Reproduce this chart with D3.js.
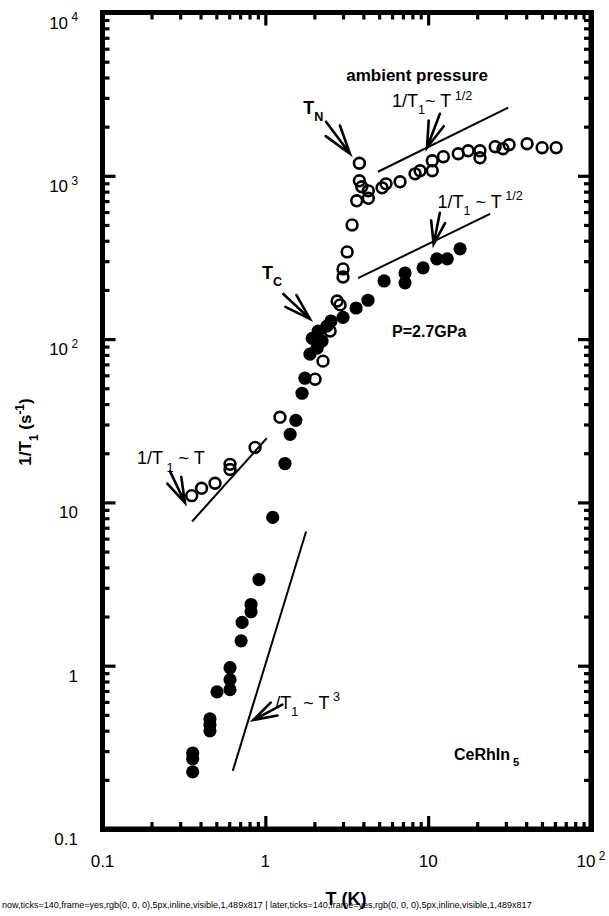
<!DOCTYPE html>
<html>
<head>
<meta charset="utf-8">
<script src="https://cdn.jsdelivr.net/npm/d3@7"></script>
<style>
  body { margin: 0; background: #fff; position: relative; }
  svg { display: block; font-family: "Liberation Sans", Arial, Helvetica, sans-serif; }
  #box { position: absolute; box-sizing: border-box; border: 5px solid #000; pointer-events: none; }
  #diag { position: absolute; left: 2px; top: 900px; font: 9px sans-serif; color: #000; }
</style>
</head>
<body>
<svg id="chart" width="609" height="916"></svg>
<div id="box"></div>
<div id="diag"></div>
<script>
// ambient pressure (open circles)
const ambientT = [0.353, 0.406, 0.491, 0.607, 0.607, 0.865, 1.23, 2.02, 2.26, 2.50, 2.76, 2.88,
    3.00, 3.00, 3.18, 3.41, 3.64, 3.78, 3.78, 3.91, 4.29, 4.29, 5.21, 5.51, 6.72, 8.31, 8.92,
    10.6, 10.6, 12.4, 15.3, 17.6, 20.8, 20.8, 25.8, 28.8, 31.4, 40.5, 50.1, 61.1];
const ambientRate = [11.0, 12.2, 13.1, 17.1, 15.9, 21.7, 33.2, 56.8, 73.3, 112, 171, 162,
    269, 240, 342, 500, 703, 1194, 932, 857, 809, 728, 844, 893, 919, 1028, 1074,
    1236, 1074, 1309, 1365, 1423, 1423, 1289, 1507, 1465, 1549, 1571, 1486, 1486];

// P = 2.7 GPa (filled circles)
const pressT = [0.358, 0.358, 0.358, 0.457, 0.457, 0.457, 0.505, 0.607, 0.607, 0.607, 0.710,
    0.720, 0.817, 0.817, 0.914, 1.11, 1.32, 1.42, 1.54, 1.68, 1.75, 1.88, 1.94, 2.08, 2.11,
    2.23, 2.39, 2.53, 3.00, 3.61, 4.27, 5.36, 7.21, 7.21, 9.31, 11.3, 13.1, 15.7];
const pressRate = [0.224, 0.269, 0.292, 0.399, 0.435, 0.473, 0.692, 0.713, 0.821, 0.972, 1.42,
    1.84, 2.14, 2.37, 3.37, 8.09, 17.3, 26.1, 31.8, 46.6, 57.6, 80.9, 101, 88.1, 112,
    97.2, 120, 129, 136, 155, 173, 227, 254, 221, 273, 310, 310, 357];

// power-law guide lines [T, rate] -> [T, rate]
const guideLines = [
    [[4.92, 1059], [31.0, 2612]],   // ambient ~T^1/2
    [[3.71, 236], [24.0, 585]],     // 2.7GPa ~T^1/2
    [[0.355, 7.64], [1.02, 24.7]],  // ~T
    [[0.631, 0.227], [1.78, 6.64]]  // ~T^3
];

// arrows, tail -> tip
const arrows = [
    [[2.36, 2143], [3.31, 1365]],   // T_N
    [[11.8, 2399], [9.84, 1486]],
    [[11.8, 593], [10.8, 381]],
    [[1.29, 189], [1.88, 133]],     // T_C
    [[0.260, 15.5], [0.321, 9.95]],
    [[1.27, 0.577], [0.844, 0.465]]
];

const xTickLabels = [[0.1, "0.1"], [1, "1"], [10, "10"], [100, "10", "2"]];
const yTickLabels = [[1e4, "10", "4"], [1e3, "10", "3"], [100, "10", "2"], [10, "10"], [1, "1"], [0.1, "0.1"]];

const svg = d3.select("#chart");
const width = 609, height = 916;
svg.append("rect").attr("width", width).attr("height", height).attr("fill", "#fff");

const plotLeft = 102.5, plotRight = 591, plotTop = 12.5, plotBottom = 829;
const x = d3.scaleLog().domain([0.1, 100]).range([plotLeft, plotRight]);
const y = d3.scaleLog().domain([0.1, 1e4]).range([plotBottom, plotTop]);

// tick values: majors at decades, minors at 2..9
const xMajor = [1, 10];
const yMajor = [1, 10, 100, 1000];
const minors = (d0, d1) => {
    const out = [];
    for (let d = d0; d < d1 * 0.999; d *= 10) for (let m = 2; m <= 9; m++) out.push(d * m);
    return out;
};
const xMinor = minors(0.1, 100);
const yMinor = minors(0.1, 1e4);

// inward ticks on all four sides
function tickAxis(axisFn, scale, values, size, tx, ty) {
    const g = svg.append("g")
        .attr("class", "ticks")
        .attr("transform", `translate(${tx},${ty})`);
    g.call(axisFn(scale).tickValues(values).tickSize(-size).tickFormat(() => ""));
    g.select(".domain").remove();
    g.selectAll(".tick line")
        .attr("stroke", "#000")
        .attr("stroke-width", 3.2);
}
[[xMajor, 13], [xMinor, 7]].forEach(([v, s]) => {
    tickAxis(d3.axisBottom, x, v, s, 0, plotBottom);
    tickAxis(d3.axisTop, x, v, s, 0, plotTop);
});
[[yMajor, 13], [yMinor, 7]].forEach(([v, s]) => {
    tickAxis(d3.axisLeft, y, v, s, plotLeft, 0);
    tickAxis(d3.axisRight, y, v, s, plotRight, 0);
});

// frame (svg) plus the same frame as an html box
svg.append("path")
    .attr("id", "frame")
    .attr("d", `M${plotLeft},${plotTop}H${plotRight}V${plotBottom}H${plotLeft}Z`)
    .attr("fill", "none")
    .attr("stroke", "#000")
    .attr("stroke-width", 5);
d3.select("#box")
    .style("left", `${plotLeft - 2.5}px`).style("top", `${plotTop - 2.5}px`)
    .style("width", `${plotRight - plotLeft + 5}px`).style("height", `${plotBottom - plotTop + 5}px`);

// text with sub/superscripts: parts = [[str, kind]]
function rich(px, py, parts, size, weight, anchor, rotate) {
    const t = svg.append("text")
        .attr("x", px).attr("y", py)
        .attr("font-size", size)
        .attr("font-weight", weight || "normal")
        .attr("text-anchor", anchor || "start")
        .attr("fill", "#000");
    if (rotate) t.attr("transform", `rotate(${rotate},${px},${py})`);
    let off = 0;
    parts.forEach(([s, kind]) => {
        const target = kind === "sub" ? size * 0.4 : kind === "sup" ? -size * 0.42 : 0;
        const ts = t.append("tspan").text(s).attr("dy", target - off);
        if (kind) ts.attr("font-size", size * 0.7);
        off = target;
    });
    return t;
}

// tick labels
xTickLabels.forEach(([v, a, b]) => {
    rich(x(v), 867, b ? [[a], [" " + b, "sup"]] : [[a]], 17, "normal", "middle");
});
yTickLabels.forEach(([v, a, b]) => {
    rich(78, y(v) + 16, b ? [[a], [" " + b, "sup"]] : [[a]], 17, "normal", "end");
});

// axis titles
rich(346, 905, [["T (K)"]], 18, "bold", "middle");
rich(31, 432, [["1/T"], ["1", "sub"], [" (s"], ["-1", "sup"], [")"]], 17, "bold", "middle", -90);

// guide lines
svg.append("g").selectAll("line")
    .data(guideLines)
    .join("line")
    .attr("x1", d => x(d[0][0])).attr("y1", d => y(d[0][1]))
    .attr("x2", d => x(d[1][0])).attr("y2", d => y(d[1][1]))
    .attr("stroke", "#000").attr("stroke-width", 2);

// arrows: shaft plus two long barbs
const arrowG = svg.append("g").attr("stroke", "#000").attr("stroke-width", 2.6)
    .attr("fill", "none").attr("stroke-linecap", "round");
arrows.forEach(([tail, tip]) => {
    const x0 = x(tail[0]), y0 = y(tail[1]), x1 = x(tip[0]), y1 = y(tip[1]);
    const ang = Math.atan2(y0 - y1, x0 - x1);
    const len = Math.hypot(x0 - x1, y0 - y1) * 0.75;
    const spread = 0.3;
    const barb = a => [x1 + len * Math.cos(a), y1 + len * Math.sin(a)];
    const b1 = barb(ang - spread), b2 = barb(ang + spread);
    arrowG.append("path")
        .attr("d", `M${x0},${y0}L${x1},${y1}M${b1[0]},${b1[1]}L${x1},${y1}L${b2[0]},${b2[1]}`);
});

// data points
const ambient = ambientT.map((t, i) => [t, ambientRate[i]]);
const press = pressT.map((t, i) => [t, pressRate[i]]);

svg.append("g").selectAll("circle")
    .data(press)
    .join("circle")
    .attr("cx", d => x(d[0])).attr("cy", d => y(d[1]))
    .attr("r", 6.6).attr("fill", "#000");

svg.append("g").selectAll("circle")
    .data(ambient)
    .join("circle")
    .attr("cx", d => x(d[0])).attr("cy", d => y(d[1]))
    .attr("r", 5.4).attr("fill", "none")
    .attr("stroke", "#000").attr("stroke-width", 2.6);

// annotations
const at = (t, v) => [x(t), y(v)];
rich(...at(8.55, 3828), [["ambient pressure"]], 17, "bold", "middle");
rich(...at(6.0, 2630), [["1/T"], ["1", "sub"], ["~ T"], [" 1/2", "sup"]], 18);
rich(...at(11.4, 637), [["1/T"], ["1", "sub"], [" ~  T"], [" 1/2", "sup"]], 18);
rich(...at(1.71, 2399), [["T"], ["N", "sub"]], 18, "bold");
rich(...at(0.955, 233), [["T"], ["C", "sub"]], 18, "bold");
rich(...at(6.0, 103), [["P=2.7GPa"]], 16, "bold");
rich(...at(0.163, 17.1), [["1/T"], [" 1", "sub"], ["  ~ T"]], 18);
rich(...at(1.15, 0.545), [["/T"], ["1", "sub"], [" ~ T"], [" 3", "sup"]], 18);
rich(...at(14.4, 0.265), [["CeRhIn"], [" 5", "sub"]], 16, "bold");

// temporary check of frame/ticks state
function report(tag) {
    const f = document.getElementById("frame");
    const cs = f ? getComputedStyle(f) : null;
    const r = f ? f.getBoundingClientRect() : null;
    const parts = [tag, "ticks=" + document.querySelectorAll(".tick").length,
        "frame=" + (f ? "yes" : "no")];
    if (cs) parts.push(cs.stroke, cs.strokeWidth, cs.display, cs.visibility, cs.opacity,
        Math.round(r.width) + "x" + Math.round(r.height));
    return parts.join(",");
}
const d0 = report("now");
d3.select("#diag").text(d0);
setTimeout(() => d3.select("#diag").text(d0 + " | " + report("later")), 50);
</script>
</body>
</html>
